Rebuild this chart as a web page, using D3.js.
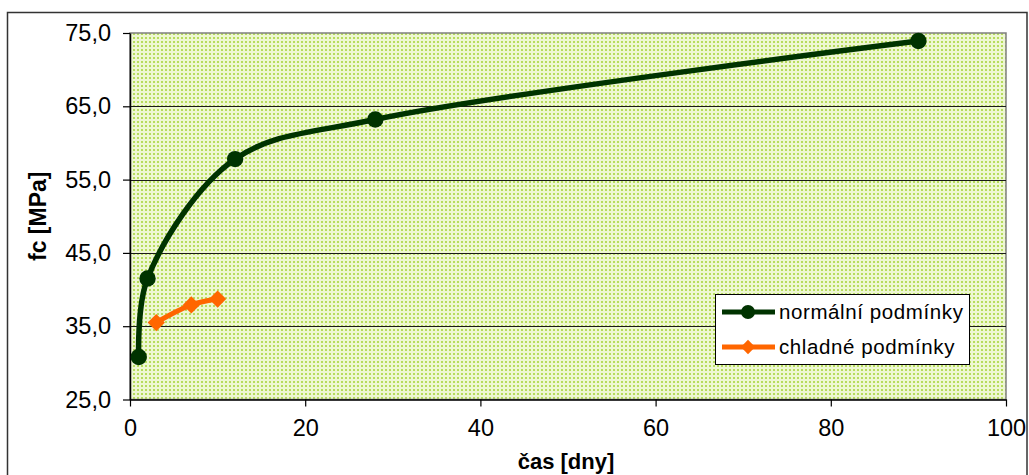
<!DOCTYPE html>
<html>
<head>
<meta charset="utf-8">
<script src="https://cdn.jsdelivr.net/npm/d3@7"></script>
<style>
  html, body { margin: 0; padding: 0; background: #fff; }
  svg { display: block; font-family: "Liberation Sans", Arial, sans-serif; }
</style>
</head>
<body>
<svg id="chart" width="1029" height="475"></svg>
<script>
// Compressive strength over time
const normalDays = [1, 2, 12, 28, 90];
const normalFc = [30.8, 41.5, 57.8, 63.2, 73.9];
const coldDays = [3, 7, 10];
const coldFc = [35.5, 37.9, 38.7];
const seriesNames = ["normální podmínky", "chladné podmínky"];
const xTicks = [0, 20, 40, 60, 80, 100];
const yTicks = [25, 35, 45, 55, 65, 75];
const xTitle = "čas [dny]";
const yTitle = "fc [MPa]";

const svg = d3.select("#chart");
const plot = { left: 130, right: 1006, top: 33, bottom: 399.5 };

const x = d3.scaleLinear().domain([0, 100]).range([plot.left, plot.right]);
const y = d3.scaleLinear().domain([25, 75]).range([plot.bottom, plot.top]);

// chart frame
svg.append("rect")
  .attr("x", 7.5).attr("y", 12.5)
  .attr("width", 1019.5).attr("height", 475)
  .attr("fill", "#fff").attr("stroke", "#333").attr("stroke-width", 1.5);

// dotted plot-area fill
const defs = svg.append("defs");
const pat = defs.append("pattern")
  .attr("id", "dots").attr("patternUnits", "userSpaceOnUse")
  .attr("width", 4).attr("height", 4);
pat.append("rect").attr("width", 4).attr("height", 4).attr("fill", "#eef7d2");
pat.append("rect").attr("x", 1).attr("y", 1).attr("width", 2).attr("height", 2).attr("fill", "#b6dc5c");

svg.append("rect")
  .attr("x", plot.left).attr("y", plot.top)
  .attr("width", plot.right - plot.left).attr("height", plot.bottom - plot.top)
  .attr("fill", "url(#dots)").attr("stroke", "#808080").attr("stroke-width", 1.5);

// horizontal gridlines
svg.append("g").selectAll("line")
  .data(yTicks.filter(v => v > 25 && v < 75))
  .join("line")
  .attr("x1", plot.left).attr("x2", plot.right)
  .attr("y1", d => Math.round(y(d)) + 0.5).attr("y2", d => Math.round(y(d)) + 0.5)
  .attr("stroke", "#1a1a1a").attr("stroke-width", 1);

// axes
const fmt = d => d.toFixed(1).replace(".", ",");
const yAxis = svg.append("g")
  .attr("transform", `translate(${plot.left},0)`)
  .call(d3.axisLeft(y).tickValues(yTicks).tickFormat(fmt).tickSize(7).tickPadding(12).tickSizeOuter(0));
const xAxis = svg.append("g")
  .attr("transform", `translate(0,${plot.bottom})`)
  .call(d3.axisBottom(x).tickValues(xTicks).tickSize(7).tickPadding(13).tickSizeOuter(0));
[yAxis, xAxis].forEach(g => {
  g.selectAll("text").attr("font-size", 23.5).attr("fill", "#000")
    .attr("font-family", "'Liberation Sans', Arial, sans-serif");
  g.select(".domain").attr("stroke", "#000").attr("stroke-width", 1.5);
  g.selectAll(".tick line").attr("stroke", "#000").attr("stroke-width", 1.2);
});

// axis titles
svg.append("text")
  .attr("x", 566).attr("y", 469)
  .attr("text-anchor", "middle")
  .attr("font-size", 22).attr("font-weight", "bold")
  .text(xTitle);
svg.append("text")
  .attr("transform", `translate(46,${(plot.top + plot.bottom) / 2}) rotate(-90)`)
  .attr("text-anchor", "middle")
  .attr("font-size", 23).attr("font-weight", "bold")
  .text(yTitle);

// series
const normal = normalDays.map((d, i) => [d, normalFc[i]]);
const cold = coldDays.map((d, i) => [d, coldFc[i]]);
const line = d3.line().x(d => x(d[0])).y(d => y(d[1])).curve(d3.curveCatmullRom.alpha(0.5));

const green = "#003300", orange = "#ff6600";

svg.append("path").datum(normal)
  .attr("d", line).attr("fill", "none")
  .attr("stroke", green).attr("stroke-width", 5.5).attr("stroke-linejoin", "round");
svg.append("g").selectAll("circle").data(normal).join("circle")
  .attr("cx", d => x(d[0])).attr("cy", d => y(d[1])).attr("r", 8.2)
  .attr("fill", green);

svg.append("path").datum(cold)
  .attr("d", line).attr("fill", "none")
  .attr("stroke", orange).attr("stroke-width", 5).attr("stroke-linejoin", "round");
const diamond = d3.symbol().type(d3.symbolDiamond2).size(190);
svg.append("g").selectAll("path").data(cold).join("path")
  .attr("transform", d => `translate(${x(d[0])},${y(d[1])})`)
  .attr("d", diamond).attr("fill", orange);

// legend
const lg = svg.append("g");
lg.append("rect")
  .attr("x", 715.5).attr("y", 294.5).attr("width", 254).attr("height", 70)
  .attr("fill", "#fff").attr("stroke", "#000").attr("stroke-width", 1);
const legendItems = [
  { name: seriesNames[0], color: green, shape: "circle", y: 312 },
  { name: seriesNames[1], color: orange, shape: "diamond", y: 347 }
];
const legendDiamond = d3.symbol().type(d3.symbolDiamond2).size(130);
legendItems.forEach(it => {
  lg.append("line")
    .attr("x1", 722).attr("x2", 775).attr("y1", it.y).attr("y2", it.y)
    .attr("stroke", it.color).attr("stroke-width", 5);
  if (it.shape === "circle") {
    lg.append("circle").attr("cx", 748).attr("cy", it.y).attr("r", 7).attr("fill", it.color);
  } else {
    lg.append("path").attr("transform", `translate(748,${it.y})`)
      .attr("d", legendDiamond).attr("fill", it.color);
  }
  lg.append("text")
    .attr("x", 779).attr("y", it.y + 7)
    .attr("font-size", 20.5).attr("letter-spacing", 0.6)
    .text(it.name);
});
</script>
</body>
</html>
